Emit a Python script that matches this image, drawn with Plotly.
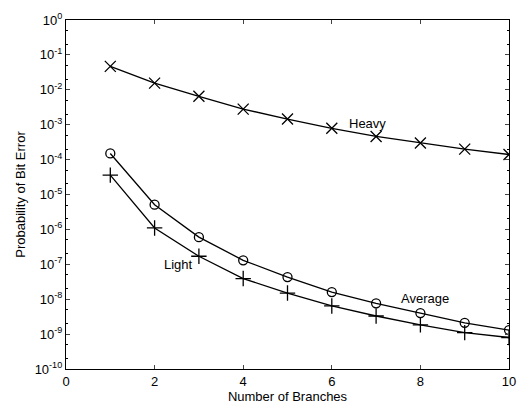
import math
import plotly.graph_objects as go

# Number of diversity branches
branches = [1, 2, 3, 4, 5, 6, 7, 8, 9, 10]

# Bit error probability for each fading condition
heavy = [4.7e-2, 1.55e-2, 6.5e-3, 2.8e-3, 1.45e-3, 7.9e-4, 4.6e-4, 3.0e-4, 2.0e-4, 1.4e-4]
average = [1.5e-4, 5.1e-6, 6.0e-7, 1.3e-7, 4.3e-8, 1.6e-8, 7.6e-9, 4.0e-9, 2.1e-9, 1.3e-9]
light = [3.6e-5, 1.1e-6, 1.7e-7, 3.9e-8, 1.5e-8, 6.4e-9, 3.3e-9, 1.85e-9, 1.1e-9, 8.0e-10]

# Log-axis ticks
y_tickvals = [10.0 ** -k for k in range(0, 11)]
y_ticktext = ["10<sup>%d</sup>" % (-k) for k in range(0, 11)]
x_tickvals = [0, 2, 4, 6, 8, 10]

FONT = "Liberation Sans, Arial, sans-serif"

fig = go.Figure()

series = [
    ("Heavy", heavy, "x-thin-open", 11),
    ("Average", average, "circle-open", 9),
    ("Light", light, "cross-thin-open", 11),
]
for name, vals, sym, size in series:
    fig.add_trace(go.Scatter(
        x=branches, y=vals, mode="lines+markers", name=name,
        line=dict(color="black", width=1.3),
        marker=dict(symbol=sym, size=size, color="black",
                    line=dict(color="black", width=1.3)),
        showlegend=False,
    ))

# Curve labels
labels = [
    ("Heavy", 6.8, 1.1e-3),
    ("Average", 8.1, 1.08e-8),
    ("Light", 2.55, 9.8e-8),
]
for text, xv, yv in labels:
    fig.add_annotation(x=xv, y=math.log10(yv), text=text,
                       showarrow=False, font=dict(family=FONT, size=13, color="black"))

fig.update_xaxes(
    range=[0, 10], tickvals=x_tickvals, ticks="inside", ticklen=4,
    showline=True, linecolor="black", linewidth=1.3, mirror="ticks",
    showgrid=False, zeroline=False,
    tickfont=dict(family=FONT, size=13, color="black"),
    title=dict(text="Number of Branches", standoff=4,
               font=dict(family=FONT, size=13, color="black")),
)
fig.update_yaxes(
    type="log", range=[-10, 0], tickvals=y_tickvals, ticktext=y_ticktext,
    ticks="inside", ticklen=4,
    minor=dict(ticks="inside", ticklen=2, tickcolor="black", showgrid=False),
    showline=True, linecolor="black", linewidth=1.3, mirror="ticks",
    showgrid=False, zeroline=False,
    tickfont=dict(family=FONT, size=13, color="black"),
    title=dict(text="Probability of Bit Error", standoff=6,
               font=dict(family=FONT, size=13, color="black")),
)

fig.update_layout(
    width=527, height=413,
    margin=dict(l=66, r=11, t=17, b=42),
    paper_bgcolor="white", plot_bgcolor="white",
)

fig.write_html("out.html")
